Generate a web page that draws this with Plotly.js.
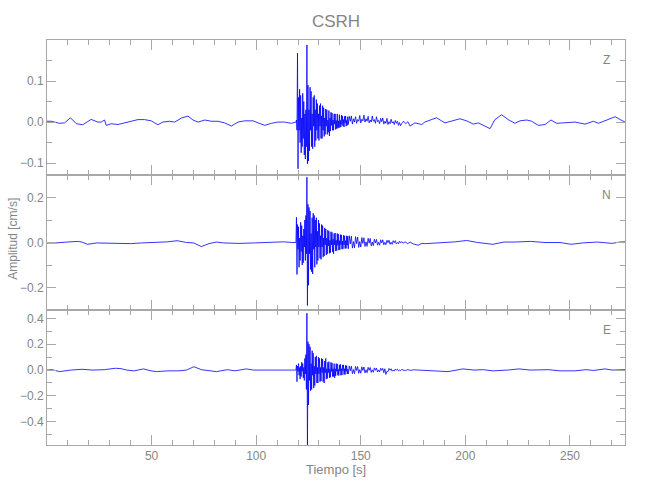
<!DOCTYPE html>
<html><head><meta charset="utf-8">
<script src="https://cdn.plot.ly/plotly-3.0.1.min.js"></script>
<style>body{margin:0;background:#fff}</style>
</head><body><div id="chart" style="width:650px;height:500px"></div>
<script>
// ---------------- data ----------------
const stationName = "CSRH";
const componentLabels = ["Z", "N", "E"];
const xTitle = "Tiempo [s]";
const yTitle = "Amplitud [cm/s]";

// sampling of the dense (coda) part of the records
const coda1Start = 119, coda1Step = 0.25;
const coda2Start = 144, coda2Step = 0.5;

// ---- Z component ----
const zPreT = [0,2,3.6,6,8.4,11.2,14,17.1,21.1,24.3,25.9,27.5,28.3,30.7,33.9,37.1,40.3,43.5,46.6,49.8,53,55.4,58.6,61,64.2,67.4,69.8,72.2,75.4,78.6,81.7,84.9,88.1,91.3,94.5,98.5,100.9,104.1,107.3,110.4,113.6,116.8];
const zPreV = [0.002,0.002,0.0,-0.003,-0.002,0.0105,-0.004,-0.0065,0.0065,0.0,0.0,0.005,-0.008,-0.004,-0.006,-0.002,0.002,0.006,0.006,0.003,-0.0065,0.0,0.002,0.0,0.0097,0.0145,0.005,0.0,0.005,0.002,0.002,-0.002,-0.0097,0.0,0.003,0.003,-0.002,-0.008,-0.003,0.0,0.0,-0.003];
const zCoda1 = [0.0,0.005,-0.02,0.168,-0.114,0.06,-0.02,0.08,-0.05,0.065,-0.075,0.01,-0.06,0.07,-0.04,0.05,-0.08,0.02,-0.09,0.03,-0.06,
  0.188,-0.102,0.09,-0.095,0.03,-0.07,0.085,-0.02,0.075,-0.06,0.02,-0.065,0.06,-0.01,0.065,
  -0.06,0.03,-0.045,0.055,-0.02,0.045,-0.04,0.02,-0.045,0.04,-0.01,0.045,-0.04,0.015,-0.04,0.04,
  -0.02,0.035,-0.035,0.01,-0.03,0.032,-0.01,0.03,-0.03,0.005,-0.025,0.028,-0.034,0.01,-0.022,0.024,
  -0.008,0.022,-0.02,0.005,-0.02,0.02,-0.005,0.02,-0.018,0.004,-0.016,0.02,-0.015,0.003,-0.014,0.018,
  -0.013,0.004,-0.012,0.017,-0.006,0.015,-0.01,0.006,-0.012,0.014,-0.002,0.015,-0.01,0.004,-0.008,0.013];
const zCoda2 = [-0.006,0.014,0.002,0.015,-0.005,0.008,0.0,0.013,-0.003,0.006,
  0.002,0.016,-0.002,0.007,0.003,0.017,0.0,0.008,0.002,0.014,
  -0.002,0.005,0.0,0.015,0.002,0.006,-0.003,0.013,0.001,0.004,
  -0.004,0.009,0.001,0.01,-0.005,0.002,-0.003,0.009,-0.006,0.001,
  -0.004,0.007,-0.002,0.001,-0.006,0.004,-0.003,0.002,-0.008,-0.001,-0.009,-0.004];
const zPostT = [170.5,171.5,172.5,173.5,175.9,177.4,179.1,180.6,182.2,186.2,190.2,193.4,197.4,200.6,203.8,206.2,208.6,211.8,214.1,217.3,220.5,223.7,226.1,229.3,231.7,234.9,238.1,240.9,243.7,247.6,252.4,257.2,261.2,263.6,268.4,271.6,274,276.3];
const zPostV = [0.002,-0.004,0.001,-0.0097,-0.002,-0.004,-0.006,0.0,0.0025,0.0105,-0.002,0.003,0.008,0.003,-0.005,-0.002,-0.008,-0.016,0.006,0.0178,0.006,-0.003,0.003,0.005,0.002,-0.008,-0.006,0.005,-0.003,-0.002,0.0,-0.005,0.002,-0.003,0.006,0.013,0.006,0.0];

// ---- N component ----
const nPreT = [0,4.2,9.5,14.9,16.7,19.3,23.8,29.2,34.5,39.9,45.2,52.4,57.7,62.2,66.7,70.2,73.8,77.4,81,84.5,91.7,98.8,106,113.1,117.6];
const nPreV = [-0.002,-0.002,0.002,0.005,0.002,-0.008,-0.002,-0.003,-0.005,-0.005,-0.002,0.0,0.003,0.008,0.0,-0.002,-0.018,-0.005,0.002,-0.002,-0.004,-0.002,0.002,0.003,0.0];
const nCoda1 = [0.0,0.112,-0.142,0.08,-0.03,0.07,-0.11,0.02,-0.08,0.09,-0.04,0.075,-0.1,0.03,-0.09,0.06,-0.02,0.1,-0.08,0.12,-0.05,
  0.29,-0.28,0.17,-0.19,0.156,-0.05,0.14,-0.12,0.04,-0.13,0.11,-0.14,0.13,-0.03,0.12,
  -0.11,0.1,-0.02,0.11,-0.097,0.05,-0.08,0.1,-0.02,0.085,-0.07,0.03,-0.075,0.08,-0.02,0.075,
  -0.065,0.02,-0.06,0.065,-0.01,0.06,-0.055,0.02,-0.05,0.055,-0.015,0.05,-0.048,0.01,-0.045,0.048,
  -0.01,0.045,-0.042,0.015,-0.05,0.04,-0.01,0.042,-0.038,0.01,-0.036,0.04,-0.012,0.038,-0.034,0.008,
  -0.032,0.035,-0.01,0.034,-0.03,0.006,-0.028,0.032,-0.01,0.03,-0.027,0.008,-0.026,0.03,-0.012,0.028];
const nCoda2 = [-0.028,0.03,-0.006,0.028,-0.025,0.004,-0.024,0.026,-0.005,0.024,
  -0.022,0.004,-0.02,0.022,-0.004,0.021,-0.018,0.003,-0.017,0.019,
  -0.003,0.018,-0.015,0.002,-0.014,0.015,-0.002,0.014,-0.012,0.001,
  -0.012,0.012,-0.002,0.012,-0.01,0.001,-0.01,0.01,-0.001,0.01,
  -0.008,0.001,-0.008,0.008,-0.001,0.008,-0.006,0.0,-0.006,0.006,-0.002,0.004];
const nPostT = [170.2,171.2,172.4,173.6,175,177.4,179.2,181,186.3,191.7,195.2,200.6,205.9,213.1,218.4,223.8,231,238.1,245.2,250.6,255.9,263.1,270.2,273.8,276.3];
const nPostV = [-0.003,0.003,-0.005,0.002,-0.006,-0.012,-0.004,-0.005,-0.003,0.0,0.003,0.009,0.0,-0.008,0.002,0.002,0.005,0.0,0.0,-0.008,-0.002,0.002,-0.004,0.002,0.003];

// ---- E component ----
const ePreT = [0,2.4,6,11.3,16.7,22,27.4,32.7,35.4,38.1,41.7,46.1,49.7,52.4,57.7,63.1,66.7,70.2,73.8,77.4,81,86.3,89.9,95.2,98.8,106,113.1,117.6];
const ePreV = [0.0,0.003,-0.012,0.0,0.006,0.0,0.003,0.014,0.011,0.0,-0.006,0.009,-0.006,-0.012,-0.006,-0.006,0.0,0.026,0.003,-0.006,-0.012,0.003,-0.006,0.009,0.0,0.0,0.0,0.0];
const eCoda1 = [0.0,0.04,-0.09,0.03,-0.01,0.05,-0.04,0.02,-0.07,0.03,-0.05,0.06,-0.01,0.05,-0.06,0.02,-0.08,0.09,-0.03,0.12,-0.15,
  0.44,-0.6,0.22,-0.27,0.2,-0.08,0.18,-0.16,0.05,-0.15,0.15,-0.04,0.13,-0.14,0.03,
  -0.12,0.1,-0.03,0.11,-0.1,0.02,-0.1,0.1,-0.03,0.09,-0.09,0.02,-0.085,0.09,-0.02,0.085,
  -0.09,0.02,-0.1,0.07,-0.02,0.09,-0.07,0.01,-0.065,0.06,-0.02,0.065,-0.06,0.01,-0.055,0.06,
  -0.01,0.055,-0.05,0.01,-0.05,0.05,-0.06,0.01,-0.045,0.05,-0.01,0.048,-0.04,0.005,-0.042,0.04,
  -0.008,0.045,-0.04,0.01,-0.038,0.04,-0.005,0.04,-0.035,0.01,-0.034,0.036,-0.008,0.035,-0.03,0.006];
const eCoda2 = [-0.03,0.032,-0.005,0.03,-0.028,0.004,-0.028,0.028,-0.004,0.027,
  -0.025,0.003,-0.024,0.025,-0.003,0.024,-0.022,0.002,-0.02,0.021,
  -0.002,0.02,-0.018,0.002,-0.017,0.017,-0.002,0.016,-0.015,0.001,
  -0.014,0.014,-0.002,0.013,-0.02,0.01,-0.034,-0.01,-0.012,0.012,
  -0.001,0.01,-0.009,0.0,-0.008,0.008,-0.001,0.007,-0.006,0.0,-0.005,0.004];
const ePostT = [170.2,171.3,172.5,173.8,175.2,177.4,180,182.5,186.3,191.7,198.8,204.2,208.6,213.1,220.2,225.6,231,239.9,245.2,252.4,257.7,261.3,266.7,270.2,276.3];
const ePostV = [0.003,-0.004,0.004,-0.003,0.002,0.0,-0.004,-0.006,-0.012,-0.012,0.009,0.0,0.003,-0.006,0.0,0.009,0.0,0.003,-0.006,-0.006,0.003,-0.003,0.009,0.0,0.003];

// axis ticks
const xMajorTicks = [50, 100, 150, 200, 250];
const xMinorTicks = [10,20,30,40,60,70,80,90,110,120,130,140,160,170,180,190,210,220,230,240,260,270];
const zTicks = [-0.1, 0, 0.1], zMinor = [-0.05, 0.05, 0.15];
const nTicks = [-0.2, 0, 0.2], nMinor = [-0.1, 0.1];
const eTicks = [-0.4, -0.2, 0, 0.2, 0.4], eMinor = [-0.5, -0.3, -0.1, 0.1, 0.3];

// ---------------- build ----------------
function buildTrace(preT, preV, c1, c2, postT, postV) {
  const t = [], v = [];
  preT.forEach((x, i) => { t.push(x); v.push(preV[i]); });
  c1.forEach((y, i) => { t.push(coda1Start + i * coda1Step); v.push(y); });
  c2.forEach((y, i) => { t.push(coda2Start + i * coda2Step); v.push(y); });
  postT.forEach((x, i) => { t.push(x); v.push(postV[i]); });
  return { t, v };
}
const Z = buildTrace(zPreT, zPreV, zCoda1, zCoda2, zPostT, zPostV);
const N = buildTrace(nPreT, nPreV, nCoda1, nCoda2, nPostT, nPostV);
const E = buildTrace(ePreT, ePreV, eCoda1, eCoda2, ePostT, ePostV);

const FONT = "'Liberation Sans', Arial, sans-serif";
const AX = '#a8a8a8';
const TXT = '#858585';
const lineStyle = { color: 'rgb(0,0,255)', width: 0.8 };

const data = [
  { x: Z.t, y: Z.v, xaxis: 'x', yaxis: 'y', mode: 'lines', line: lineStyle, hoverinfo: 'skip' },
  { x: N.t, y: N.v, xaxis: 'x2', yaxis: 'y2', mode: 'lines', line: lineStyle, hoverinfo: 'skip' },
  { x: E.t, y: E.v, xaxis: 'x3', yaxis: 'y3', mode: 'lines', line: lineStyle, hoverinfo: 'skip' }
];

function xAxis(anchor, labels) {
  return {
    anchor, domain: [0, 1], range: [0, 276.3], showline: true, linecolor: AX, linewidth: 1,
    mirror: 'allticks', ticks: 'inside', ticklen: 10, tickcolor: AX, tickwidth: 1,
    tickmode: 'array', tickvals: xMajorTicks, showticklabels: labels,
    tickfont: { family: FONT, size: 12, color: TXT },
    minor: { tickmode: 'array', tickvals: xMinorTicks, ticks: 'inside', ticklen: 5, tickcolor: AX },
    showgrid: false, zeroline: false, fixedrange: true
  };
}
function yAxis(anchor, dom, rng, tv, mv) {
  return {
    anchor, domain: dom, range: rng, showline: true, linecolor: AX, linewidth: 1,
    mirror: 'allticks', ticks: 'inside', ticklen: 9, tickcolor: AX, tickwidth: 1,
    tickmode: 'array', tickvals: tv, tickformat: '.1f',
    tickfont: { family: FONT, size: 12, color: TXT },
    minor: { tickmode: 'array', tickvals: mv, ticks: 'inside', ticklen: 5, tickcolor: AX },
    showgrid: false, zeroline: false, fixedrange: true
  };
}

const labelFont = { family: FONT, size: 12, color: TXT };
const layout = {
  width: 650, height: 500,
  paper_bgcolor: '#fff', plot_bgcolor: '#fff',
  margin: { l: 47, r: 25, t: 40, b: 55 },
  showlegend: false,
  title: { text: stationName, x: 0.5, xref: 'paper', xanchor: 'center', y: 0.958, yref: 'container', yanchor: 'middle',
           font: { family: FONT, size: 17, color: TXT } },
  xaxis: xAxis('y', false),
  xaxis2: xAxis('y2', false),
  xaxis3: xAxis('y3', true),
  yaxis: yAxis('x', [2/3, 1], [-0.129, 0.2], zTicks, zMinor),
  yaxis2: yAxis('x2', [1/3, 2/3], [-0.3, 0.3], nTicks, nMinor),
  yaxis3: yAxis('x3', [0, 1/3], [-0.58, 0.465], eTicks, eMinor),
  annotations: [
    { text: componentLabels[0], xref: 'paper', yref: 'paper', x: 0.968, y: 0.951, xanchor: 'center', yanchor: 'middle', showarrow: false, font: labelFont },
    { text: componentLabels[1], xref: 'paper', yref: 'paper', x: 0.968, y: 0.617, xanchor: 'center', yanchor: 'middle', showarrow: false, font: labelFont },
    { text: componentLabels[2], xref: 'paper', yref: 'paper', x: 0.968, y: 0.284, xanchor: 'center', yanchor: 'middle', showarrow: false, font: labelFont },
    { text: yTitle, xref: 'paper', yref: 'paper', x: -0.059, y: 0.509, xanchor: 'center', yanchor: 'middle', textangle: -90, showarrow: false, font: labelFont },
    { text: xTitle, xref: 'paper', yref: 'paper', x: 0.5, y: -0.06, xanchor: 'center', yanchor: 'middle', showarrow: false, font: { family: FONT, size: 13, color: TXT } }
  ]
};

Plotly.newPlot('chart', data, layout, { staticPlot: true, displayModeBar: false });
</script>
</body></html>
